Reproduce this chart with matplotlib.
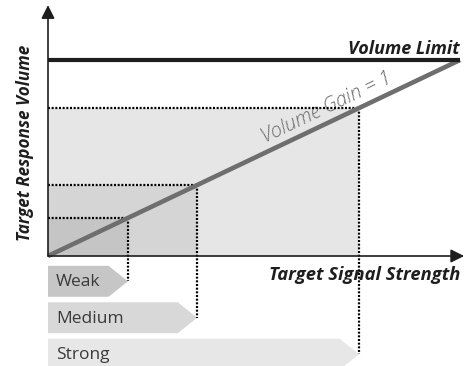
import numpy as np
import matplotlib
matplotlib.use('Agg')
import matplotlib.pyplot as plt
from matplotlib.patches import Polygon, Rectangle

plt.rcParams['font.family'] = ['Open Sans', 'DejaVu Sans']

# signal levels (fraction of max signal), gain = 1 so response = signal
levels = ['Weak', 'Medium', 'Strong']
signal = [0.194, 0.362, 0.755]
gain = 1.0
volume_limit = 1.0
max_signal = 1.0

fill_colors = ['#c5c5c6', '#d5d5d6', '#e6e6e7']
label_colors = ['#c6c6c6', '#d8d8d8', '#e7e7e7']

fig = plt.figure(figsize=(4.71, 3.66), dpi=100)
ax = fig.add_axes([0, 0, 1, 1])
ax.set_xlim(-48 / 412, 423 / 412)
ax.set_ylim(-110 / 196, 256 / 196)
ax.axis('off')

# shaded response areas, biggest first
for s, c in sorted(zip(signal, fill_colors), reverse=True):
    ax.add_patch(Rectangle((0, 0), s, s * gain, facecolor=c, edgecolor='none', zorder=1))

# label chevrons below the x axis
band_h = 0.158
gap = 0.028
chev = 0.047
tips_y = []
for i, (name, s, c) in enumerate(zip(levels, signal, label_colors)):
    top = -0.05 - i * (band_h + gap)
    bot = top - band_h
    mid = (top + bot) / 2
    tips_y.append(mid)
    pts = [(0, top), (s - chev, top), (s, mid), (s - chev, bot), (0, bot)]
    ax.add_patch(Polygon(pts, closed=True, facecolor=c, edgecolor='none', zorder=1))
    ax.text(0.02, mid - 0.005, name, fontsize=12.5, color='#3a3a3a', va='center', ha='left', zorder=3)

# dotted guides
dots = dict(color='#000000', lw=1.6, ls=(0, (0.9, 0.75)), dash_capstyle='butt', zorder=4)
for s, ty in zip(signal, tips_y):
    ax.plot([0, s], [s * gain, s * gain], **dots)
    ax.plot([s, s], [s * gain, ty], **dots)

# gain line and volume limit
x = np.array([0, max_signal])
ax.plot(x, x * gain, color='#6e6e6e', lw=3.3, solid_capstyle='butt', zorder=5)
ax.plot([0, max_signal], [volume_limit, volume_limit], color='#1e1e1e', lw=3.0,
        solid_capstyle='butt', zorder=6)

# axes with arrows
arrow = dict(arrowstyle='-|>', color='#1e1e1e', lw=1.2, mutation_scale=20, shrinkA=0, shrinkB=0)
ax.annotate('', xy=(1.01, 0), xytext=(0, 0), arrowprops=arrow, zorder=7)
ax.annotate('', xy=(0, 1.28), xytext=(0, 0), arrowprops=arrow, zorder=7)

ax.text(1.0, 1.03, 'Volume Limit', fontsize=13, fontweight='bold', style='italic',
        color='#1e1e1e', ha='right', va='baseline')
ax.text(1.0, -0.05, 'Target Signal Strength', fontsize=13.2, fontweight='bold', style='italic',
        color='#1e1e1e', ha='right', va='top')
ax.text(-0.056, 0.577, 'Target Response Volume', fontsize=12.3, fontweight='bold', style='italic',
        color='#1e1e1e', ha='center', va='center', rotation=90)
ax.text(0.677, 0.755, 'Volume Gain = 1', fontsize=14.5, fontweight='light', style='italic',
        color='#6b6b6b', ha='center', va='center', rotation=25.4, rotation_mode='anchor')

fig.savefig('out.png', dpi=100)
